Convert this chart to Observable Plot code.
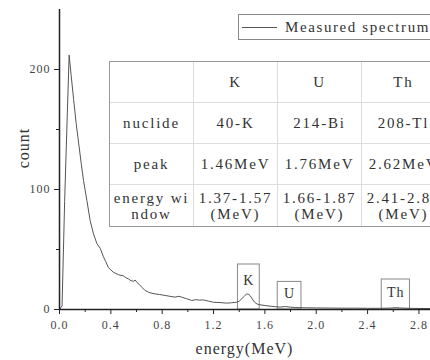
<!DOCTYPE html>
<html><head><meta charset="utf-8">
<script src="https://cdn.jsdelivr.net/npm/d3@7"></script>
<script src="https://cdn.jsdelivr.net/npm/@observablehq/plot@0.6"></script>
<style>
body{margin:0;background:#fff;}
#wrap{position:relative;width:430px;height:360px;overflow:hidden;font-family:"Liberation Serif",serif;color:#333;}
#wrap svg{position:absolute;left:0;top:0;}
table.nt{position:absolute;left:109px;top:61px;border-collapse:separate;border-spacing:0;table-layout:fixed;width:332px;
  border:1px solid #999;border-right:none;background:#fff;font-size:15px;letter-spacing:1.8px;color:#333;}
table.nt td{width:83px;padding:0;text-align:center;border-right:1px solid #ddd;border-bottom:1px solid #ddd;line-height:16px;white-space:nowrap;overflow:hidden;}
table.nt tr:last-child td{border-bottom:none;}
table.nt tr{height:41px;}
table.nt tr:last-child td{padding-top:1px;}
.legend{position:absolute;left:238px;top:14px;width:210px;height:24px;border:1px solid #888;background:#fff;font-size:15px;letter-spacing:1.6px;color:#333;}
.legend .ln{position:absolute;left:3px;top:12px;width:35px;border-top:1px solid #555;}
.legend .tx{position:absolute;left:46px;top:3px;line-height:18px;white-space:nowrap;}
.xl{position:absolute;left:59px;width:371px;top:340px;text-align:center;font-size:16px;letter-spacing:1px;line-height:18px;color:#333;}
.yl{position:absolute;left:24px;top:148px;font-size:16px;letter-spacing:1px;line-height:18px;color:#333;transform:translate(-50%,-50%) rotate(-90deg);white-space:nowrap;}
</style></head><body><div id="wrap"></div>
<script>
// spectrum
const energy = [0, 0.02, 0.04, 0.06, 0.075, 0.09, 0.11, 0.13, 0.15, 0.17, 0.187, 0.213, 0.239, 0.265, 0.291, 0.317, 0.342, 0.36, 0.381, 0.40, 0.42, 0.44, 0.459, 0.478, 0.498, 0.517, 0.537, 0.556, 0.576, 0.59, 0.602, 0.62, 0.641, 0.665, 0.693, 0.72, 0.745, 0.78, 0.823, 0.86, 0.90, 0.93, 0.952, 0.99, 1.03, 1.06, 1.09, 1.12, 1.16, 1.20, 1.25, 1.30, 1.34, 1.38, 1.40, 1.42, 1.44, 1.458, 1.47, 1.484, 1.50, 1.52, 1.54, 1.56, 1.60, 1.64, 1.68, 1.72, 1.76, 1.795, 1.84, 1.925, 2.0, 2.1, 2.2, 2.3, 2.4, 2.5, 2.58, 2.62, 2.66, 2.75, 2.89];
const counts = [0, 3, 90, 160, 212, 196, 175, 155, 138, 121, 107.5, 91, 74, 63, 55, 51, 44, 40, 35, 33, 31, 30, 29, 28.5, 28, 26.5, 25.5, 24, 23.6, 24.5, 22.8, 21, 18.6, 16, 14.4, 13.5, 13, 12.5, 11.7, 11, 10.3, 11, 10.3, 9, 7.5, 8.2, 7.8, 8, 7, 6, 5.8, 5.3, 5.6, 6, 7, 9, 11, 13, 12.8, 11.7, 9, 6, 4.5, 4, 3.3, 2.8, 2.3, 2, 2.5, 2, 1.6, 1.4, 1.3, 1.2, 1.1, 1.1, 1, 1, 1.2, 1.5, 1.2, 0.9, 0.8];
// axes
const xTicks = [0, 0.4, 0.8, 1.2, 1.6, 2.0, 2.4, 2.8];
const xMinor = [0.2, 0.6, 1.0, 1.4, 1.8, 2.2, 2.6];
const yTicks = [0, 100, 200];
const yMinor = [50, 150];
// energy-window boxes
const boxLabels = ["K", "U", "Th"];
const boxLo = [1.39, 1.70, 2.51];
const boxHi = [1.56, 1.885, 2.73];
const boxTop = [37.5, 23, 25];
const boxLabelY = [24, 13, 14];
// table
const headerCols = ["", "K", "U", "Th"];
const nuclideRow = ["nuclide", "40-K", "214-Bi", "208-Tl"];
const peakRow = ["peak", "1.46MeV", "1.76MeV", "2.62MeV"];
const windowRow1 = ["energy wi", "1.37-1.57", "1.66-1.87", "2.41-2.81"];
const windowRow2 = ["ndow", "(MeV)", "(MeV)", "(MeV)"];
const legendText = "Measured spectrum";

const spec = energy.map((e, i) => ({e, c: counts[i]}));
const boxes = boxLabels.map((t, i) => ({t, lo: boxLo[i], hi: boxHi[i], top: boxTop[i], ly: boxLabelY[i]}));

const svg = Plot.plot({
  width: 430, height: 360,
  marginLeft: 59, marginRight: 0, marginTop: 9, marginBottom: 51,
  style: {fontFamily: "Liberation Serif, serif", fontSize: "12px", letterSpacing: "1px", color: "#444", background: "transparent"},
  x: {domain: [0, 2.89]},
  y: {domain: [0, 250]},
  marks: [
    Plot.rect(boxes, {x1: "lo", x2: "hi", y1: 0, y2: "top", stroke: "#888", fill: "none", strokeWidth: 1}),
    Plot.text(boxes, {x: d => (d.lo + d.hi) / 2, y: "ly", text: "t", fontSize: 14, fill: "#333"}),
    Plot.line(spec, {x: "e", y: "c", stroke: "#555", strokeWidth: 1}),
    Plot.axisX({ticks: xTicks, tickSize: 5, tickPadding: 6, tickFormat: d => d.toFixed(1), stroke: "#222", label: null}),
    Plot.axisX({ticks: xMinor, tickSize: 3, tickFormat: () => "", stroke: "#222", label: null}),
    Plot.axisY({ticks: yTicks, tickSize: 5, tickPadding: 4, tickFormat: d => String(d), stroke: "#222", label: null}),
    Plot.axisY({ticks: yMinor, tickSize: 3, tickFormat: () => "", stroke: "#222", label: null}),
    Plot.ruleY([0], {stroke: "#222", strokeWidth: 1.5}),
    Plot.ruleX([0], {stroke: "#222", strokeWidth: 1.5})
  ]
});
const wrap = document.getElementById("wrap");
wrap.appendChild(svg);

// table overlay
const table = document.createElement("table");
table.className = "nt";
function addRow(cells, cells2) {
  const tr = document.createElement("tr");
  cells.forEach((c, i) => {
    const td = document.createElement("td");
    td.textContent = c;
    if (cells2) { td.appendChild(document.createElement("br")); td.appendChild(document.createTextNode(cells2[i])); }
    tr.appendChild(td);
  });
  table.appendChild(tr);
}
addRow(headerCols);
addRow(nuclideRow);
addRow(peakRow);
addRow(windowRow1, windowRow2);
wrap.appendChild(table);

// legend
const lg = document.createElement("div");
lg.className = "legend";
lg.innerHTML = '<div class="ln"></div>';
const lt = document.createElement("div"); lt.className = "tx"; lt.textContent = legendText; lg.appendChild(lt);
wrap.appendChild(lg);

// axis labels
const xl = document.createElement("div"); xl.className = "xl"; xl.textContent = "energy(MeV)"; wrap.appendChild(xl);
const yl = document.createElement("div"); yl.className = "yl"; yl.textContent = "count"; wrap.appendChild(yl);
</script></body></html>
